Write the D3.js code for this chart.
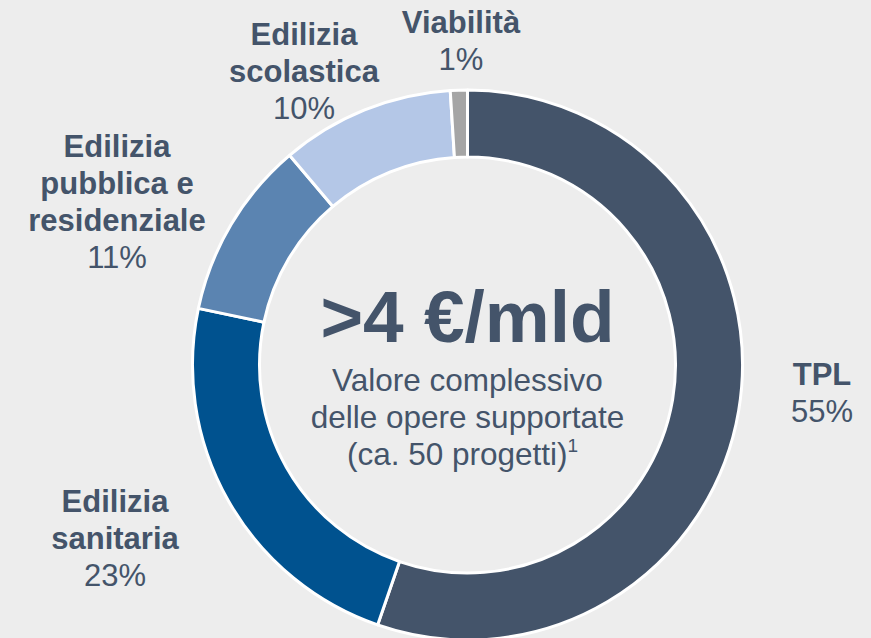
<!DOCTYPE html>
<html>
<head>
<meta charset="utf-8">
<script src="https://cdn.jsdelivr.net/npm/d3@7"></script>
<style>
  html, body { margin: 0; padding: 0; background: #ededed; }
  svg { display: block; font-family: "Liberation Sans", Arial, sans-serif; }
</style>
</head>
<body>
<div id="chart"></div>
<script>
// chart data
var categories = ['TPL', 'Edilizia sanitaria', 'Edilizia pubblica e residenziale', 'Edilizia scolastica', 'Viabilità'];
var labelLines = [['TPL'], ['Edilizia', 'sanitaria'], ['Edilizia', 'pubblica e', 'residenziale'], ['Edilizia', 'scolastica'], ['Viabilità']];
var shares = [55.3, 23.0, 10.5, 10.2, 1.0];
var pctLabels = ['55%', '23%', '11%', '10%', '1%'];
var colors = ['#44546a', '#00528f', '#5b84b1', '#b4c7e7', '#a5a5a5'];
var centerTitle = '>4 €/mld';
var centerLines = ['Valore complessivo', 'delle opere supportate', '(ca. 50 progetti)'];

// label placement (center x, first baseline y)
var labelPos = [[822, 385], [115, 512], [117, 157], [304, 45], [461, 33]];

var width = 871, height = 638;
var cx = 467.5, cy = 365;
var outerR = 275, innerR = 208;
var textColor = '#44546a';
var lineH = 37;

var svg = d3.select('#chart').append('svg')
  .attr('width', width)
  .attr('height', height);

svg.append('rect').attr('width', width).attr('height', height).attr('fill', '#ededed');

var pie = d3.pie().sort(null).value(function(d) { return d; });
var arc = d3.arc().innerRadius(innerR).outerRadius(outerR);

var g = svg.append('g').attr('transform', 'translate(' + cx + ',' + cy + ')');

g.selectAll('path.slice')
  .data(pie(shares))
  .enter().append('path')
  .attr('class', 'slice')
  .attr('d', arc)
  .attr('fill', function(d, i) { return colors[i]; })
  .attr('stroke', '#ffffff')
  .attr('stroke-width', 3)
  .attr('stroke-linejoin', 'round');

// category labels
var labels = svg.selectAll('text.lbl')
  .data(categories)
  .enter().append('text')
  .attr('class', 'lbl')
  .attr('text-anchor', 'middle')
  .attr('fill', textColor)
  .attr('font-size', 31);

labels.each(function(d, i) {
  var t = d3.select(this);
  var x = labelPos[i][0], y = labelPos[i][1];
  labelLines[i].forEach(function(line, j) {
    t.append('tspan').attr('x', x).attr('y', y + j * lineH)
      .attr('font-weight', 'bold').text(line);
  });
  t.append('tspan').attr('x', x).attr('y', y + labelLines[i].length * lineH)
    .text(pctLabels[i]);
});

// center text
svg.append('text')
  .attr('x', cx).attr('y', 342)
  .attr('text-anchor', 'middle')
  .attr('fill', textColor)
  .attr('font-size', 73)
  .attr('font-weight', 'bold')
  .text(centerTitle);

var sub = svg.append('text')
  .attr('text-anchor', 'middle')
  .attr('fill', textColor)
  .attr('font-size', 31.5);

centerLines.forEach(function(line, j) {
  var ts = sub.append('tspan').attr('x', cx).attr('y', 391 + j * lineH).text(line);
  if (j == centerLines.length - 1) {
    ts.attr('x', cx - 5);
  }
});
// footnote marker
sub.append('tspan').attr('dy', -13).attr('font-size', 19).text('1');
</script>
</body>
</html>
